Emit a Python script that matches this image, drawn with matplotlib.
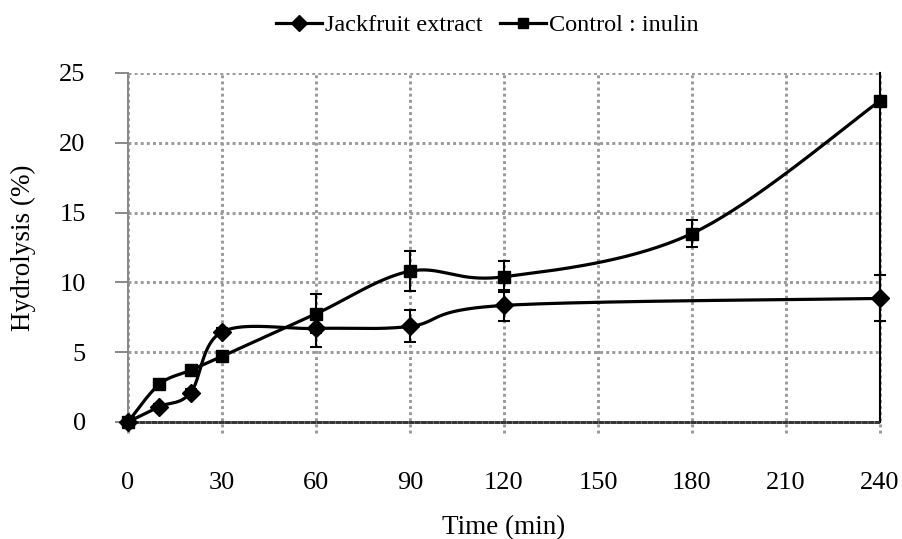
import numpy as np
import matplotlib
matplotlib.use('Agg')
import matplotlib.pyplot as plt
from matplotlib.lines import Line2D

plt.rcParams['font.family'] = ['Liberation Serif', 'DejaVu Serif']

time_jack = [0, 10, 20, 30, 60, 90, 120, 240]
hydro_jack = [0, 1.1, 2.1, 6.45, 6.7, 6.85, 8.35, 8.85]
err_jack = [0, 0.2, 0.25, 0.25, 1.35, 1.15, 1.1, 1.65]

time_ctrl = [0, 10, 20, 30, 60, 90, 120, 180, 240]
hydro_ctrl = [0, 2.7, 3.7, 4.7, 7.75, 10.8, 10.4, 13.5, 23.0]
err_ctrl = [0, 0.15, 0.15, 0.15, 1.4, 1.45, 1.1, 1.0, 0.0]

x_ticks = [0, 30, 60, 90, 120, 150, 180, 210, 240]
y_ticks = [0, 5, 10, 15, 20, 25]


def smooth_curve(xs, ys, sx=3.13, sy=13.96, n=40):
    # excel-like smoothing: catmull-rom bezier in screen-ish units
    px = np.array(xs, dtype=float) * sx
    py = np.array(ys, dtype=float) * sy
    out_x, out_y = [], []
    k = len(px)
    for i in range(k - 1):
        p0 = np.array([px[max(i - 1, 0)], py[max(i - 1, 0)]])
        p1 = np.array([px[i], py[i]])
        p2 = np.array([px[i + 1], py[i + 1]])
        p3 = np.array([px[min(i + 2, k - 1)], py[min(i + 2, k - 1)]])
        c1 = p1 + (p2 - p0) / 6
        c2 = p2 - (p3 - p1) / 6
        t = np.linspace(0, 1, n)[:, None]
        pts = ((1 - t) ** 3) * p1 + 3 * ((1 - t) ** 2) * t * c1 + 3 * (1 - t) * t ** 2 * c2 + t ** 3 * p2
        out_x.extend(pts[:, 0] / sx)
        out_y.extend(pts[:, 1] / sy)
    return out_x, out_y


fig, ax = plt.subplots(figsize=(9.03, 5.39), dpi=100)
plt.subplots_adjust(left=0.1417, right=0.9745, top=0.8646, bottom=0.2171)

grid_color = '#999999'
for xv in x_ticks:
    ax.plot([xv, xv], [-0.8, 25], color=grid_color, lw=2.1, ls=(0, (1, 1.1)),
            clip_on=False, zorder=1)
for yv in y_ticks[1:]:
    ax.axhline(yv, color=grid_color, lw=2.1, ls=(0, (1, 1.1)), zorder=1)

sx, sy = smooth_curve(time_jack, hydro_jack)
ax.plot(sx, sy, color='black', lw=2.3, zorder=3)
ax.errorbar(time_jack, hydro_jack, yerr=err_jack, fmt='D', color='black',
            ms=9, ecolor='black', elinewidth=1.5, capsize=4.5, capthick=1.5,
            zorder=4, clip_on=False)

sx, sy = smooth_curve(time_ctrl, hydro_ctrl)
ax.plot(sx, sy, color='black', lw=2.3, zorder=3)
ax.errorbar(time_ctrl, hydro_ctrl, yerr=err_ctrl, fmt='s', color='black',
            ms=8.5, ecolor='black', elinewidth=1.5, capsize=4.5, capthick=1.5,
            zorder=4, clip_on=False)

ax.set_xlim(0, 240)
ax.set_ylim(0, 25)
ax.set_xticks(x_ticks)
ax.set_yticks(y_ticks)
ax.tick_params(axis='x', length=0, pad=36, labelsize=19)
ax.tick_params(axis='y', length=9.4, color='#888888', width=1.4, pad=21, labelsize=19)

ax.spines['top'].set_visible(False)
ax.spines['left'].set_color('#888888')
ax.spines['left'].set_linewidth(1.4)
ax.spines['right'].set_color('black')
ax.spines['right'].set_linewidth(1.5)
ax.spines['bottom'].set_color('#333333')
ax.spines['bottom'].set_linestyle((0, (1, 1.1)))
ax.spines['bottom'].set_linewidth(2.1)

ax.set_xlabel('Time (min)', fontsize=19.5, va='top')
ax.xaxis.set_label_coords(0.5, -0.268)
ax.set_ylabel('Hydrolysis (%)', fontsize=19.5)
ax.yaxis.set_label_coords(-0.122, 0.5)

handles = [Line2D([], [], color='black', lw=2.3, marker='D', ms=8),
           Line2D([], [], color='black', lw=2.3, marker='s', ms=7.5)]
fig.legend(handles, ['Jackfruit extract', 'Control : inulin'], loc='center left',
           bbox_to_anchor=(276 / 903, 1 - 25 / 539), ncol=2, frameon=False,
           fontsize=17.5, borderpad=0, borderaxespad=0,
           handlelength=1.9, handletextpad=0.12, columnspacing=0.7)

plt.savefig('out.png', dpi=100)
